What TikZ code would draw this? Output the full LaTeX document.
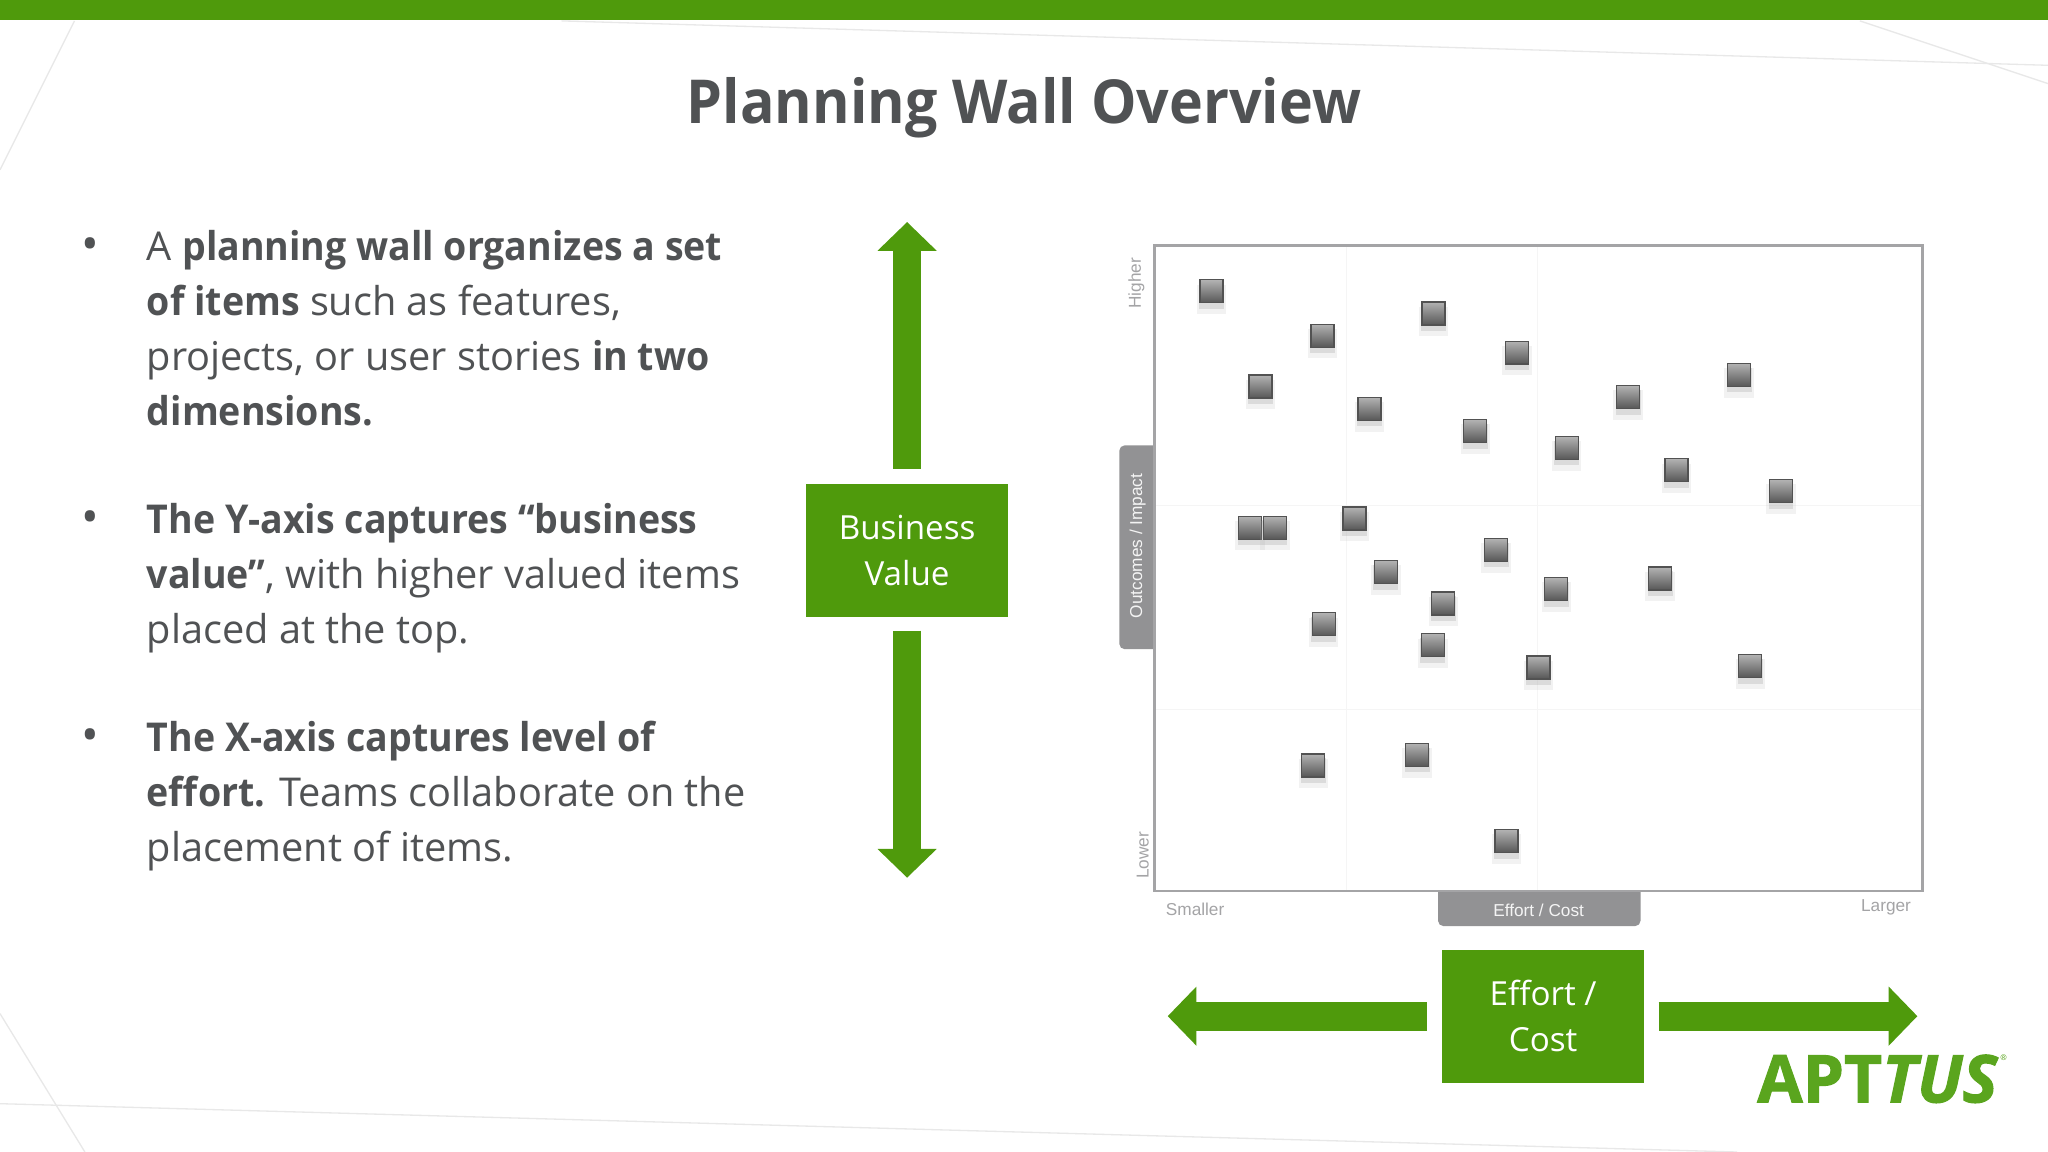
\documentclass[tikz,border=0pt]{standalone}
\usepackage{fontspec}
\setmainfont{Open Sans}[BoldFeatures={FakeStretch=0.945}]
\newfontfamily\chartfont{Liberation Sans}
\newfontfamily\logofont{Open Sans}[BoldFeatures={FakeBold=1.6},BoldItalicFeatures={FakeBold=1.6}]
\usetikzlibrary{arrows.meta,shadows}
\definecolor{wallgreen}{HTML}{4F9A0C}
\definecolor{logogreen}{HTML}{5AA51E}
\definecolor{inkgrey}{HTML}{505254}
\definecolor{tabgrey}{HTML}{929294}
\definecolor{chartline}{HTML}{A4A4A6}
\tikzset{
  greenbox/.style={fill=wallgreen,draw=none,minimum width=77.5pt,minimum height=51pt,inner sep=0pt,text=white,align=center,font=\fontsize{12.7}{17.5}\selectfont},
  bigarrow/.style={draw=wallgreen,line width=11pt,-{Triangle[length=11pt,width=22pt]},shorten <=5.7pt},
  bodytext/.style={anchor=north west,inner sep=0pt,text=inkgrey,align=left,font=\fontsize{15.2}{21}\selectfont},
  bulletmark/.style={inner sep=0pt,text=inkgrey,font=\fontsize{18}{21}\selectfont},
  chartlabel/.style={inner sep=0pt,text=chartline,font=\chartfont\fontsize{6.6}{8}\selectfont},
  tablabel/.style={inner sep=0pt,text=white!90!tabgrey,font=\chartfont\fontsize{6.6}{8}\selectfont},
  bgline/.style={draw=black!9,line width=0.5pt},
  gridline/.style={draw=black!4,line width=0.4pt},
  wallitem/.style={minimum size=8.8pt,inner sep=0pt,draw=black!68,line width=0.5pt,top color=black!30,bottom color=black!66,
    drop shadow={shadow xshift=0pt,shadow yshift=-2.4pt,shadow scale=1.28,fill=black!30,opacity=0.16},
    drop shadow={shadow xshift=0pt,shadow yshift=-1.8pt,shadow scale=1.08,fill=black!35,opacity=0.3}},
}
\begin{document}
\begin{tikzpicture}[x=0.5pt,y=-0.5pt]
\useasboundingbox (0,0) rectangle (1568,882);
\fill[white] (0,0) rectangle (1568,882);
% faint background lines
\draw[bgline] (57,16) -- (0,130);
\draw[bgline] (0,776) -- (65,882);
\draw[bgline] (0,845) -- (1330,882);
\draw[bgline] (430,16) -- (1568,50);
\draw[bgline] (1424,16) -- (1568,64);
\fill[wallgreen] (0,0) rectangle (1568,15.5);
% title
\node[inner sep=0pt,text=inkgrey,font=\fontsize{23.2}{28}\selectfont\bfseries] (title) at (784,82.5) {Planning Wall Overview};
% body
\node[bulletmark] (b1) at (69,191) {•};
\node[bodytext] (t1) at (112,176) {A \textbf{planning wall organizes a set}\\\textbf{of items} such as features,\\projects, or user stories \textbf{in two}\\\textbf{dimensions.}};
\node[bulletmark] (b2) at (69,400) {•};
\node[bodytext] (t2) at (112,385) {\textbf{The Y-axis captures “business}\\\textbf{value”}, with higher valued items\\placed at the top.};
\node[bulletmark] (b3) at (69,567) {•};
\node[bodytext] (t3) at (112,552) {\textbf{The X-axis captures level of}\\\textbf{effort.} Teams collaborate on the\\placement of items.};
% green boxes and arrows
\node[greenbox] (bv) at (694.5,421.5) {\raisebox{-0.5pt}{Business}\\\raisebox{-0.5pt}{Value}};
\node[greenbox] (ec) at (1181.5,778) {\raisebox{-0.5pt}{Effort /}\\\raisebox{-0.5pt}{Cost}};
\coordinate (upTip) at (694.5,170);
\coordinate (downTip) at (694.5,672);
\coordinate (leftTip) at (894,778);
\coordinate (rightTip) at (1468,778);
\draw[bigarrow] (bv.north) -- (upTip);
\draw[bigarrow,shorten <=5pt] (bv.south) -- (downTip);
\draw[bigarrow] (ec.west) -- (leftTip);
\draw[bigarrow,shorten <=5.2pt] (ec.east) -- (rightTip);
% chart tabs
\fill[tabgrey] (884,341) [rounded corners=2pt] -- (857,341) -- (857,497) [sharp corners] -- (884,497) -- cycle;
\fill[tabgrey] (1101,683) [rounded corners=2pt] -- (1101,709) -- (1256,709) [sharp corners] -- (1256,683) -- cycle;
% chart
\draw[gridline] (1031,189) -- (1031,682);
\draw[gridline] (1177,189) -- (1177,682);
\draw[gridline] (885,387) -- (1471,387);
\draw[gridline] (885,543) -- (1471,543);
\draw[draw=chartline,line width=0.9pt] (884,188) rectangle (1472,682);
\node[chartlabel,rotate=90] (hi) at (870,217) {Higher};
\node[chartlabel,rotate=90] (lo) at (875,655) {Lower};
\node[tablabel,rotate=90] (yl) at (871,418) {Outcomes / Impact};
\node[chartlabel] (sm) at (915,696) {Smaller};
\node[chartlabel] (lg) at (1444,695) {Larger};
\node[tablabel] (xl) at (1178,697) {Effort / Cost};
\foreach \px/\py [count=\i] in {927.5/223,1012.5/257,1097.5/240,1161.5/270,965/296,1048.5/313,1129.5/330,1199.5/343,1246.5/304,1331.5/287,1283.5/360,1363.5/376,957/404,976/404,1037/397,1061/438,1145.5/421,1191.5/451,1271/443,1105/462,1013.5/478,1097/494,1178/511,1340/510,1005.5/586,1085/578,1153.5/644}
  \node[wallitem] (item\i) at (\px,\py) {};
% logo
\node[inner sep=0pt,anchor=west,text=logogreen,font=\logofont\fontsize{25.2}{28}\selectfont\bfseries] (logo) at (1345,826) {APT\textit{TUS}};
\node[inner sep=0pt,text=logogreen,font=\fontsize{3}{4}\selectfont] (reg) at (1534,810) {®};
\end{tikzpicture}
\end{document}
